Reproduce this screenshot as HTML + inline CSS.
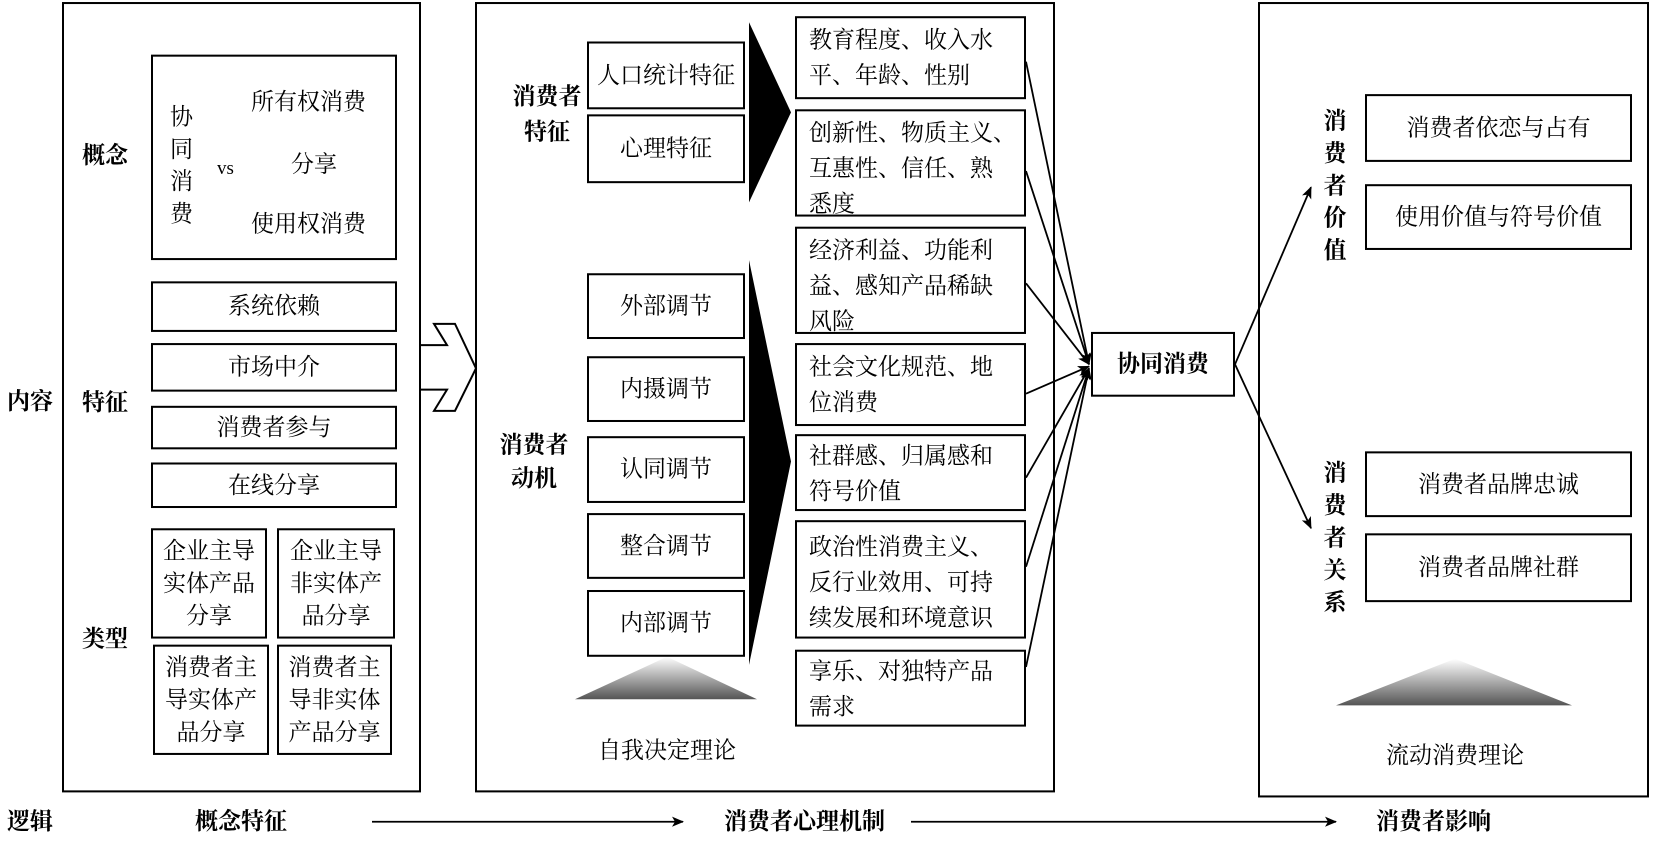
<!DOCTYPE html>
<html><head><meta charset="utf-8"><style>
body{margin:0;width:1654px;height:837px;background:#fff;position:relative;overflow:hidden;font-family:"Liberation Serif","Noto Serif CJK SC",serif;color:#000}
#w{position:absolute;left:0;top:0;width:1654px;height:837px;transform:scaleY(1.012);transform-origin:0 0}
.b{position:absolute;border:2px solid #000;box-sizing:border-box;background:#fff}
.t{position:absolute;font-size:23px;line-height:27px;white-space:nowrap}
.c{display:flex;align-items:center;justify-content:center;text-align:center;font-size:23px;line-height:30px}
.l{font-size:23px;line-height:35px;padding:4px 0 0 12px;white-space:nowrap}
.bold{font-weight:bold}
.v{position:absolute;font-weight:bold;font-size:23px;line-height:32px;width:28px;text-align:center}
</style></head><body><div id="w">
<svg width="1654" height="837" style="position:absolute;left:0;top:0">
<defs>
<marker id="a" markerWidth="12" markerHeight="10" refX="11" refY="5" orient="auto" markerUnits="userSpaceOnUse"><path d="M0,0 L12,5 L0,10 L3,5z" fill="#000"/></marker>
<linearGradient id="g" x1="0" y1="0" x2="0" y2="1"><stop offset="0" stop-color="#fff"/><stop offset="1" stop-color="#555"/></linearGradient>
</defs>
<rect x="63" y="3" width="357" height="779" fill="none" stroke="#000" stroke-width="2"/>
<rect x="476" y="3" width="578" height="779" fill="none" stroke="#000" stroke-width="2"/>
<rect x="1259" y="3" width="389" height="784" fill="none" stroke="#000" stroke-width="2"/>
<polygon points="420,341 447,341 434,320 455,320 476,364 455,406 434,406 447,385 420,385" fill="#fff" stroke="#000" stroke-width="2"/>
<polygon points="749,22 791,111 749,200" fill="#000"/>
<polygon points="749,257 791,456 749,657" fill="#000"/>
<polygon points="667,649 757,691 575,691" fill="url(#g)"/>
<polygon points="1455,651 1572,697 1336,697" fill="url(#g)"/>
<g stroke="#000" stroke-width="1.8" fill="none" marker-end="url(#a)">
<line x1="1026" y1="61" x2="1089" y2="360"/>
<line x1="1026" y1="169" x2="1089" y2="360"/>
<line x1="1026" y1="280" x2="1089" y2="360"/>
<line x1="1026" y1="389" x2="1089" y2="362"/>
<line x1="1026" y1="472" x2="1089" y2="364"/>
<line x1="1026" y1="560" x2="1089" y2="364"/>
<line x1="1026" y1="659" x2="1089" y2="364"/>
<line x1="1235" y1="360" x2="1311" y2="185"/>
<line x1="1235" y1="360" x2="1311" y2="522"/>
<line x1="372" y1="812" x2="683" y2="812"/>
<line x1="911" y1="812" x2="1336" y2="812"/>
</g>
</svg>

<div class="t bold" style="left:7px;top:383px">内容</div>
<div class="t bold" style="left:82px;top:140px">概念</div>
<div class="t bold" style="left:82px;top:384px">特征</div>
<div class="t bold" style="left:82px;top:618px">类型</div>

<div class="b" style="left:151px;top:54px;width:246px;height:203px"></div>
<div class="t" style="left:170px;top:100px;line-height:32px;width:24px;white-space:normal">协同消费</div>
<div class="t" style="left:217px;top:153px;font-size:19px">vs</div>
<div class="t" style="left:251px;top:87px">所有权消费</div>
<div class="t" style="left:291px;top:149px">分享</div>
<div class="t" style="left:251px;top:208px">使用权消费</div>

<div class="b c" style="left:151px;top:278px;width:246px;height:50px">系统依赖</div>
<div class="b c" style="left:151px;top:339px;width:246px;height:48px">市场中介</div>
<div class="b c" style="left:151px;top:401px;width:246px;height:43px">消费者参与</div>
<div class="b c" style="left:151px;top:457px;width:246px;height:45px">在线分享</div>
<div class="b c" style="left:151px;top:522px;width:116px;height:109px;line-height:32px">企业主导<br>实体产品<br>分享</div>
<div class="b c" style="left:277px;top:522px;width:118px;height:109px;line-height:32px">企业主导<br>非实体产<br>品分享</div>
<div class="b c" style="left:153px;top:637px;width:116px;height:109px;line-height:32px">消费者主<br>导实体产<br>品分享</div>
<div class="b c" style="left:277px;top:637px;width:115px;height:109px;line-height:32px">消费者主<br>导非实体<br>产品分享</div>

<div class="t bold" style="left:505px;top:78px;width:84px;text-align:center;line-height:35px;white-space:normal">消费者<br>特征</div>
<div class="t bold" style="left:492px;top:423px;width:84px;text-align:center;line-height:33px;white-space:normal">消费者<br>动机</div>
<div class="b c" style="left:587px;top:41px;width:158px;height:67px">人口统计特征</div>
<div class="b c" style="left:587px;top:113px;width:158px;height:68px">心理特征</div>
<div class="b c" style="left:587px;top:270px;width:158px;height:65px">外部调节</div>
<div class="b c" style="left:587px;top:352px;width:158px;height:65px">内摄调节</div>
<div class="b c" style="left:587px;top:431px;width:158px;height:66px">认同调节</div>
<div class="b c" style="left:587px;top:507px;width:158px;height:65px">整合调节</div>
<div class="b c" style="left:587px;top:583px;width:158px;height:66px">内部调节</div>
<div class="t" style="left:587px;top:728px;width:160px;text-align:center">自我决定理论</div>

<div class="b l" style="left:795px;top:16px;width:231px;height:82px">教育程度、收入水<br>平、年龄、性别</div>
<div class="b l" style="left:795px;top:108px;width:231px;height:106px">创新性、物质主义、<br>互惠性、信任、熟<br>悉度</div>
<div class="b l" style="left:795px;top:224px;width:231px;height:106px">经济利益、功能利<br>益、感知产品稀缺<br>风险</div>
<div class="b l" style="left:795px;top:339px;width:231px;height:82px">社会文化规范、地<br>位消费</div>
<div class="b l" style="left:795px;top:429px;width:231px;height:76px;padding-top:2px">社群感、归属感和<br>符号价值</div>
<div class="b l" style="left:795px;top:514px;width:231px;height:117px;padding-top:7px">政治性消费主义、<br>反行业效用、可持<br>续发展和环境意识</div>
<div class="b l" style="left:795px;top:642px;width:231px;height:76px;padding-top:2px">享乐、对独特产品<br>需求</div>

<div class="b c bold" style="left:1091px;top:328px;width:144px;height:64px">协同消费</div>

<div class="v" style="left:1321px;top:104px">消费者价值</div>
<div class="v" style="left:1321px;top:452px">消费者关系</div>
<div class="b c" style="left:1365px;top:93px;width:267px;height:67px">消费者依恋与占有</div>
<div class="b c" style="left:1365px;top:182px;width:267px;height:65px">使用价值与符号价值</div>
<div class="b c" style="left:1365px;top:446px;width:267px;height:65px">消费者品牌忠诚</div>
<div class="b c" style="left:1365px;top:527px;width:267px;height:68px">消费者品牌社群</div>
<div class="t" style="left:1355px;top:733px;width:200px;text-align:center">流动消费理论</div>

<div class="t bold" style="left:7px;top:798px">逻辑</div>
<div class="t bold" style="left:195px;top:798px">概念特征</div>
<div class="t bold" style="left:724px;top:798px">消费者心理机制</div>
<div class="t bold" style="left:1376px;top:798px">消费者影响</div>
</div></body></html>
